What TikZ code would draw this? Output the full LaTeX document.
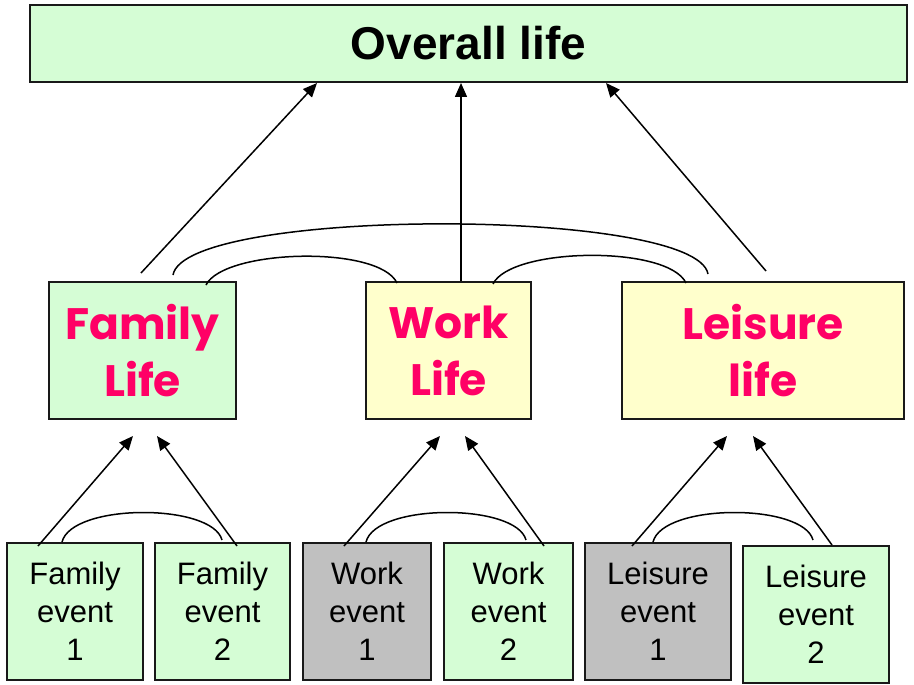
\documentclass[tikz,border=0pt]{standalone}
\usepackage{fontspec}
\setmainfont{Liberation Sans}
\newfontfamily\handfont{Poppins}[UprightFont=* Bold]
\usetikzlibrary{arrows.meta}

\definecolor{mintfill}{HTML}{D5FDD5}
\definecolor{creamfill}{HTML}{FFFFCC}
\definecolor{greyfill}{HTML}{C0C0C0}
\definecolor{hotpink}{HTML}{FF0066}

\tikzset{
  box/.style={draw=black!90, line width=2pt, inner sep=0pt, align=center},
  topbox/.style={box, fill=mintfill, minimum width=877pt, minimum height=77pt,
    font=\fontsize{46}{50}\selectfont\bfseries},
  lifebox/.style={box, minimum height=137pt, text=hotpink,
    font=\handfont\fontsize{44}{57}\selectfont},
  eventbox/.style={box, minimum height=137pt,
    font=\fontsize{31}{38}\selectfont},
  link/.style={line width=1.5pt, black},
  uparrow/.style={link, -{Triangle[length=14pt,width=12pt]}},
}

\begin{document}
\begin{tikzpicture}[x=1pt,y=-1pt]
\useasboundingbox (0,0) rectangle (914,685);

% top level
\node[topbox] (overall) at (468.5,43.5) {Overall life};

% domain level
\node[lifebox, fill=mintfill,  minimum width=187pt] (family)  at (142.5,350.5) {Family\\Life};
\node[lifebox, fill=creamfill, minimum width=165pt] (work)    at (448.5,350.5) {Work\\Life};
\node[lifebox, fill=creamfill, minimum width=282pt] (leisure) at (763,350.5)   {Leisure\\life};

% event level
\node[eventbox, fill=mintfill, minimum width=136pt] (fe1) at (75,611.5)    {Family\\event\\1};
\node[eventbox, fill=mintfill, minimum width=135pt] (fe2) at (222.5,611.5) {Family\\event\\2};
\node[eventbox, fill=greyfill, minimum width=128pt] (we1) at (367,611.5)   {Work\\event\\1};
\node[eventbox, fill=mintfill, minimum width=129pt] (we2) at (508.5,611.5) {Work\\event\\2};
\node[eventbox, fill=greyfill, minimum width=146pt] (le1) at (658,611.5)   {Leisure\\event\\1};
\node[eventbox, fill=mintfill, minimum width=146pt] (le2) at (816,614.5)   {Leisure\\event\\2};

% domains feed the overall judgement
\draw[uparrow] ([xshift=-1.5pt,yshift=8pt]family.north) -- ([xshift=-151.5pt]overall.south);
\draw[uparrow] ([xshift=12.5pt]work.north) -- ([xshift=-7.5pt]overall.south);
\draw[uparrow] ([xshift=3pt,yshift=10pt]leisure.north) -- ([xshift=137.5pt]overall.south);

% links between domains
\draw[link] ([xshift=63.5pt,yshift=-4pt]family.north) .. controls +(18,-36) and +(-18,-38) .. ([xshift=-51.5pt,yshift=-2pt]work.north);
\draw[link] ([xshift=44.5pt,yshift=-3pt]work.north) .. controls +(18,-37) and +(-18,-38) .. ([xshift=-77pt,yshift=-2pt]leisure.north);
\draw[link] ([xshift=30.5pt,yshift=6pt]family.north) .. controls +(12,-68) and +(-12,-67) .. ([xshift=-55pt,yshift=7pt]leisure.north);

% events feed their domains
\draw[uparrow] ([xshift=-37pt,yshift=-4pt]fe1.north) -- ([xshift=-9.5pt,yshift=-16pt]family.south);
\draw[uparrow] ([xshift=14.5pt,yshift=-4pt]fe2.north) -- ([xshift=14.5pt,yshift=-16pt]family.south);
\draw[uparrow] ([xshift=-23pt,yshift=-4pt]we1.north) -- ([xshift=-8.5pt,yshift=-16pt]work.south);
\draw[uparrow] ([xshift=35.5pt,yshift=-4pt]we2.north) -- ([xshift=16.5pt,yshift=-16pt]work.south);
\draw[uparrow] ([xshift=-26pt,yshift=-4pt]le1.north) -- ([xshift=-36pt,yshift=-16pt]leisure.south);
\draw[uparrow] ([xshift=16pt]le2.north) -- ([xshift=-10pt,yshift=-16pt]leisure.south);

% links between events of one domain
\draw[link] ([xshift=-13pt]fe1.north) .. controls +(10,-39) and +(-10,-37) .. ([xshift=-0.5pt,yshift=2pt]fe2.north);
\draw[link] ([xshift=-1pt]we1.north) .. controls +(10,-39) and +(-10,-37) .. ([xshift=17.5pt,yshift=2pt]we2.north);
\draw[link] ([xshift=-5pt]le1.north) .. controls +(10,-39) and +(-10,-37) .. ([xshift=-3pt,yshift=5pt]le2.north);
\end{tikzpicture}
\end{document}
